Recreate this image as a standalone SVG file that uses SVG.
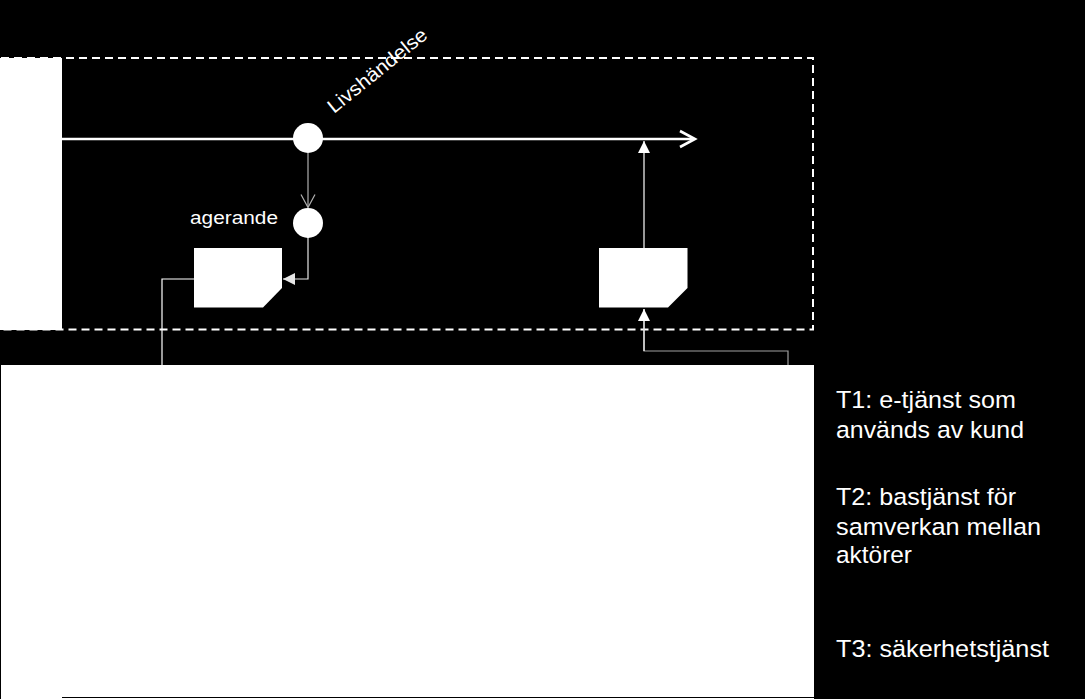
<svg xmlns="http://www.w3.org/2000/svg" width="1085" height="699" viewBox="0 0 1085 699">
  <style>
    .lbl { font-family: "Liberation Sans", Arial, sans-serif; fill: #ffffff; }
    .side { font-size: 24.5px; }
    .box { fill: #ffffff; }
    .conn { fill: none; stroke-width: 1.2; }
  </style>
  <defs>
    <marker id="openGray" markerWidth="18" markerHeight="16" refX="14" refY="8" orient="auto" markerUnits="userSpaceOnUse">
      <path d="M1,1 L14,8 L1,15" fill="none" stroke="#b0b0b0" stroke-width="1.2"/>
    </marker>
    <marker id="triLight" markerWidth="14" markerHeight="12" refX="12" refY="6" orient="auto" markerUnits="userSpaceOnUse">
      <path d="M0,0 L12,6 L0,12 Z" fill="#e6e6e6"/>
    </marker>
    <marker id="triWhite" markerWidth="14" markerHeight="12" refX="12" refY="6" orient="auto" markerUnits="userSpaceOnUse">
      <path d="M0,0 L12,6 L0,12 Z" fill="#ffffff"/>
    </marker>
  </defs>
  <rect x="0" y="0" width="1085" height="699" fill="#000000"/>

  <g id="frame">
    <rect x="1" y="58" width="812" height="271.5" fill="none" stroke="#ffffff" stroke-width="2" stroke-dasharray="8,5"/>
  </g>
  <g id="actor-bar">
    <rect x="0" y="58" width="62" height="272" fill="#ffffff"/>
  </g>
  <g id="base-area">
    <rect x="1" y="365" width="813" height="334" fill="#ffffff"/>
    <line x1="62" y1="697.5" x2="814" y2="697.5" stroke="#000000" stroke-width="1"/>
  </g>

  <g id="connectors">
    <!-- timeline -->
    <line x1="62" y1="139" x2="694" y2="139" stroke="#ffffff" stroke-width="2.4"/>
    <path d="M680,131 L695,139 L680,147" fill="none" stroke="#ffffff" stroke-width="2.6"/>
    <!-- event to action -->
    <line x1="308" y1="153" x2="308" y2="207.5" stroke="#b0b0b0" stroke-width="1.2" marker-end="url(#openGray)"/>
    <!-- action to service 1 -->
    <path d="M308,237 L308,279 L283,279" class="conn" stroke="#e6e6e6" marker-end="url(#triLight)"/>
    <!-- service 1 to base -->
    <path d="M194,279 L162,279 L162,365" class="conn" stroke="#ffffff"/>
    <!-- service 2 to timeline -->
    <line x1="644" y1="248" x2="644" y2="141" stroke="#ffffff" stroke-width="1.2" marker-end="url(#triWhite)"/>
    <!-- base to service 2 -->
    <path d="M788,365 L788,351 L644,351 L644,309" class="conn" stroke="#a0a0a0"/>
    <path d="M644,351 L644,309" class="conn" stroke="#ffffff" marker-end="url(#triWhite)"/>
  </g>

  <g id="event">
    <circle cx="308" cy="138" r="15" fill="#ffffff"/>
    <text class="lbl" font-size="19.5" textLength="122" lengthAdjust="spacingAndGlyphs" transform="translate(334,114) rotate(-39)">Livshändelse</text>
  </g>
  <g id="action">
    <circle cx="308" cy="223" r="15" fill="#ffffff"/>
    <text class="lbl" x="190" y="224" font-size="17.5" textLength="88" lengthAdjust="spacingAndGlyphs">agerande</text>
  </g>
  <g id="service1">
    <path class="box" d="M194,248 L282,248 L282,288 L263,307.5 L194,307.5 Z"/>
  </g>
  <g id="service2">
    <path class="box" d="M599,248 L687.5,248 L687.5,288 L668,307.5 L599,307.5 Z"/>
  </g>

  <g id="legend">
    <text class="lbl side" x="836" y="408" textLength="180" lengthAdjust="spacingAndGlyphs">T1: e-tjänst som</text>
    <text class="lbl side" x="836" y="438" textLength="188" lengthAdjust="spacingAndGlyphs">används av kund</text>
    <text class="lbl side" x="836" y="505" textLength="180" lengthAdjust="spacingAndGlyphs">T2: bastjänst för</text>
    <text class="lbl side" x="836" y="535" textLength="205" lengthAdjust="spacingAndGlyphs">samverkan mellan</text>
    <text class="lbl side" x="836" y="563" textLength="76" lengthAdjust="spacingAndGlyphs">aktörer</text>
    <text class="lbl side" x="836" y="657" textLength="213" lengthAdjust="spacingAndGlyphs">T3: säkerhetstjänst</text>
  </g>
</svg>
